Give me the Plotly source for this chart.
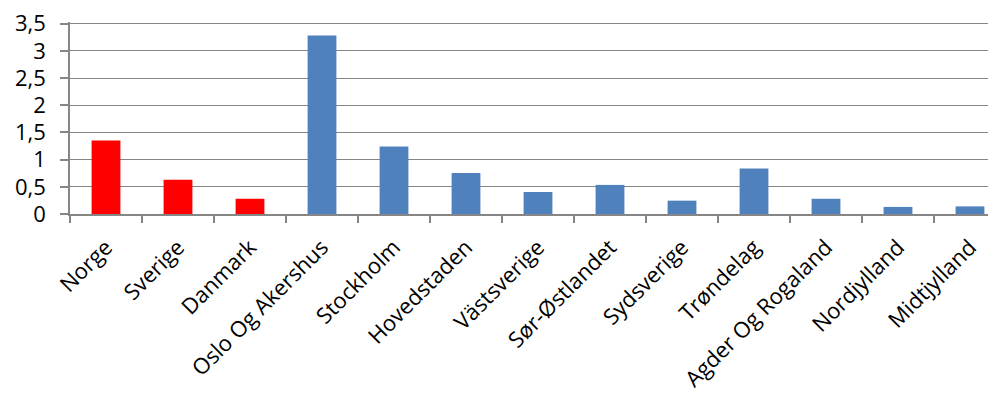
import plotly.graph_objects as go

countries = ["Norge", "Sverige", "Danmark"]
country_values = [1.35, 0.63, 0.28]

regions = ["Oslo Og Akershus", "Stockholm", "Hovedstaden", "Västsverige",
           "Sør-Østlandet", "Sydsverige", "Trøndelag", "Agder Og Rogaland",
           "Nordjylland", "Midtjylland"]
region_values = [3.28, 1.24, 0.755, 0.405, 0.535, 0.245, 0.835, 0.28, 0.13, 0.14]

y_ticks = [0, 0.5, 1, 1.5, 2, 2.5, 3, 3.5]
y_tick_labels = ["0", "0,5", "1", "1,5", "2", "2,5", "3", "3,5"]

categories = countries + regions

fig = go.Figure()
fig.add_trace(go.Bar(x=countries, y=country_values, width=0.4,
                     marker=dict(color="#FF0000", line=dict(width=0)),
                     showlegend=False, hoverinfo="x+y"))
fig.add_trace(go.Bar(x=regions, y=region_values, width=0.4,
                     marker=dict(color="#4F81BD", line=dict(width=0)),
                     showlegend=False, hoverinfo="x+y"))

font_family = "Open Sans, Noto Sans, DejaVu Sans, sans-serif"
grid = "#868686"

fig.update_layout(
    width=988, height=386,
    margin=dict(l=62, r=0, t=14.4, b=180, pad=0, autoexpand=False),
    paper_bgcolor="white", plot_bgcolor="white",
    barmode="relative",
    font=dict(family=font_family, size=20, color="#000000"),
    xaxis=dict(
        type="category",
        categoryorder="array", categoryarray=categories,
        range=[-0.5, -0.5 + 926 / 72],
        tickangle=-45,
        ticks="outside", ticklen=7, tickcolor=grid, tickwidth=1.5,
        tickson="boundaries",
        showline=True, linecolor=grid, linewidth=1.5,
        showgrid=False, zeroline=False,
        automargin=False,
        ticklabelstandoff=10,
        ticklabeloverflow="allow",
        tickfont=dict(size=22, family=font_family, color="#000000"),
    ),
    yaxis=dict(
        range=[0, 3.53],
        tickvals=y_ticks,
        ticktext=y_tick_labels,
        ticks="outside", ticklen=8, tickcolor=grid, tickwidth=1.5,
        showline=True, linecolor=grid, linewidth=1.5,
        showgrid=True, gridcolor=grid, gridwidth=1.3,
        zeroline=False,
        automargin=False,
        ticklabelstandoff=10,
        ticklabeloverflow="allow",
        tickfont=dict(size=22, family=font_family, color="#000000"),
    ),
)

fig.write_html("out.html")
